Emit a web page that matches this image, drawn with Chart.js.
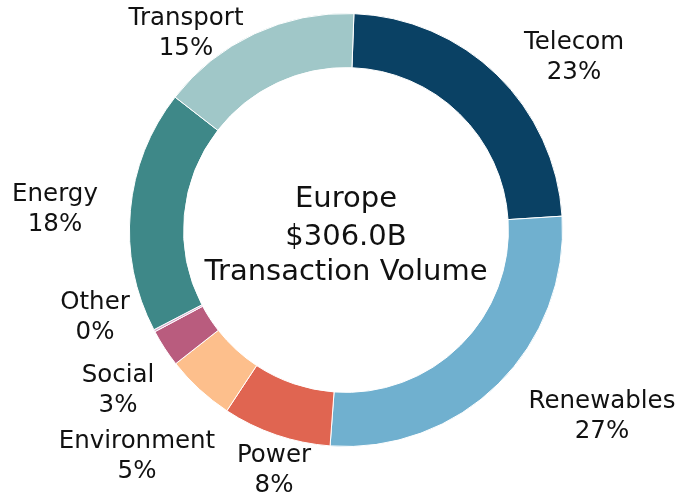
<!DOCTYPE html>
<html>
<head>
<meta charset="utf-8">
<script src="https://cdn.jsdelivr.net/npm/chart.js@4.4.1/dist/chart.umd.min.js"></script>
<style>
  html, body { margin: 0; padding: 0; background: #fff; }
  #wrap { width: 679px; height: 494px; position: relative; }
</style>
</head>
<body>
<div id="wrap"><canvas id="Chart"></canvas></div>
<script>
// sectors, clockwise from the top
var sectors = ['Telecom', 'Renewables', 'Power', 'Environment', 'Social', 'Other', 'Energy', 'Transport'];
// transaction volume, $B
var volumes = [71.6, 83.2, 24.8, 15.7, 8.6, 0.5, 55.5, 46.1];
var colours = ['#0a4164', '#70b0cf', '#e06551', '#fdbf8c', '#b95c7e', '#d9a8cb', '#3e8888', '#a0c7c8'];
var region = 'Europe';
var caption = 'Transaction Volume';

// where each label block sits, relative to the ring centre (x centre, first baseline)
var labelPos = {
    Telecom: [228, -181], Renewables: [256, 178], Power: [-72, 232], Environment: [-209, 218],
    Social: [-228, 152], Other: [-251, 79], Energy: [-291, -29], Transport: [-160, -205]
};

var total = volumes.reduce(function (a, b) { return a + b; }, 0);
var font = '"DejaVu Sans", sans-serif';

var labelsPlugin = {
    id: 'outsideLabels',
    afterDraw: function (chart) {
        var ctx = chart.ctx;
        var arc = chart.getDatasetMeta(0).data[0];
        var cx = arc.x, cy = arc.y;
        ctx.save();
        ctx.fillStyle = '#111';
        ctx.textAlign = 'center';
        ctx.textBaseline = 'alphabetic';
        ctx.font = '24.5px ' + font;
        sectors.forEach(function (s, i) {
            var p = labelPos[s];
            var pct = Math.round(volumes[i] / total * 100) + '%';
            ctx.fillText(s, cx + p[0], cy + p[1]);
            ctx.fillText(pct, cx + p[0], cy + p[1] + 30);
        });
        ctx.font = '29px ' + font;
        ctx.fillText(region, cx, cy - 23);
        ctx.fillText('$' + total.toFixed(1) + 'B', cx, cy + 15);
        ctx.fillText(caption, cx, cy + 50);
        ctx.restore();
    }
};

var ctx = document.getElementById('Chart');
var newChart = new Chart(ctx, {
    type: 'doughnut',
    data: {
        labels: sectors,
        datasets: [{
            data: volumes,
            backgroundColor: colours,
            borderColor: '#ffffff',
            borderWidth: 1
        }]
    },
    options: {
        responsive: true,
        maintainAspectRatio: false,
        animation: false,
        cutout: '75%',
        rotation: 2.1,
        layout: { padding: { left: 129, right: 116, top: 13, bottom: 47 } },
        plugins: {
            legend: { display: false },
            tooltip: { enabled: false }
        }
    },
    plugins: [labelsPlugin]
});
</script>
</body>
</html>
